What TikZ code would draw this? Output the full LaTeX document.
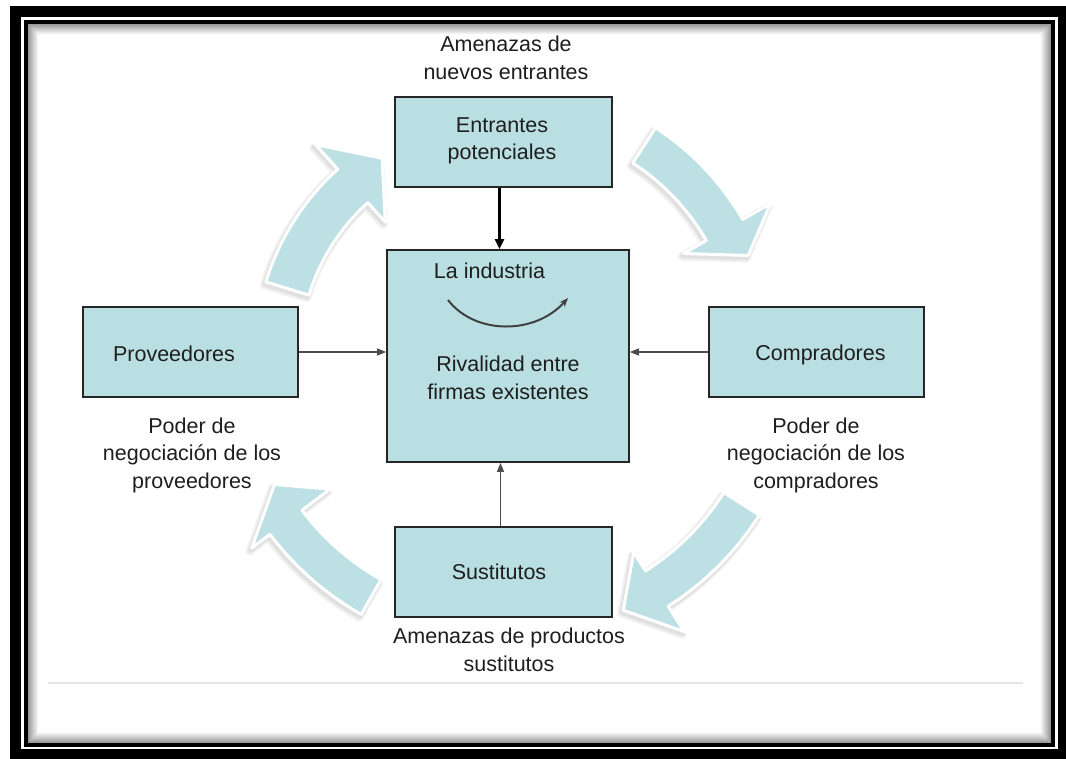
\documentclass[tikz,border=0pt]{standalone}
\usepackage{fontspec}
\setmainfont{Liberation Sans}
\usetikzlibrary{arrows.meta,calc}
\definecolor{boxblue}{RGB}{185,223,226}
\definecolor{arrblue}{RGB}{188,224,228}
\definecolor{txt}{RGB}{30,30,30}
% #1 ri, #2 ro, #3 a0, #4 a1, #5 a2, #6 rbi, #7 rbo, #8 rt  (center \cx,\cy)
\newcommand{\arrowpath}[8]{plot[domain=#3:#4,samples=30] ({\cx+#2*cos(\x)},{\cy+#2*sin(\x)}) -- ({\cx+#7*cos(#4)},{\cy+#7*sin(#4)}) -- ({\cx+#8*cos(#5)},{\cy+#8*sin(#5)}) -- ({\cx+#6*cos(#4)},{\cy+#6*sin(#4)}) -- ({\cx+#1*cos(#4)},{\cy+#1*sin(#4)}) -- plot[domain=#4:#3,samples=30] ({\cx+#1*cos(\x)},{\cy+#1*sin(\x)}) -- cycle}
\newcommand{\bigarrow}[8]{%
  \filldraw[black!6,line width=8pt,line join=round,shift={(-2,3)}] \arrowpath{#1}{#2}{#3}{#4}{#5}{#6}{#7}{#8};
  \filldraw[black!12,line width=4.5pt,line join=round,shift={(-1.5,2.5)}] \arrowpath{#1}{#2}{#3}{#4}{#5}{#6}{#7}{#8};
  \filldraw[fill=arrblue,draw=white,line width=3pt,line join=round] \arrowpath{#1}{#2}{#3}{#4}{#5}{#6}{#7}{#8};
}
\tikzset{
  box/.style={draw=black!85, line width=1.8pt, fill=boxblue, inner sep=0pt},
  lbl/.style={text=txt, align=center, font=\fontsize{21.5}{27.5}\selectfont, inner sep=0pt},
  conn/.style={draw=black!70, line width=1.2pt, -{Triangle[length=9pt,width=7pt]}},
  connthick/.style={draw=black, line width=2.5pt, -{Triangle[length=10pt,width=9pt]}},
  smallarc/.style={draw=black!75, line width=2pt, -{Stealth[length=9pt,width=7pt]}}
}
\begin{document}
\begin{tikzpicture}[x=1pt,y=-1pt]
\useasboundingbox (0,0) rectangle (1066,759);
% frame
\fill[black] (10,6) rectangle (1066,759);
\fill[white] (21,17) rectangle (1058,749);
\fill[black] (24,20) rectangle (1055,747);
\fill[white] (28,24) rectangle (1051,743);
\foreach \i in {0,...,10} {
  \pgfmathtruncatemacro\sh{40-3.8*\i}
  \draw[black!\sh, line width=1pt] ({28.5+\i},{24.5+\i}) rectangle ({1050.5-\i},{742.5-\i});
}
\draw[black!10, line width=2.5pt] (48,683) -- (1023,683);

% big curved arrows
\def\cx{505}\def\cy{355}
\bigarrow{205}{250}{197}{228}{238}{179}{283}{232}
\def\cx{508}\def\cy{355}
\bigarrow{229}{271}{303}{330}{337.5}{203}{303}{260}
\bigarrow{256}{298}{32.5}{57.5}{65.7}{234}{328}{280}
\bigarrow{258}{298}{119.5}{143}{151}{223}{321}{267}

% boxes
\node[box, minimum width=217, minimum height=90] (ent) at (503.5,142) {};
\node[box, minimum width=242, minimum height=212] (ctr) at (508,356) {};
\node[box, minimum width=215, minimum height=90] (prov) at (190.5,352) {};
\node[box, minimum width=215, minimum height=90] (comp) at (816.5,352) {};
\node[box, minimum width=217, minimum height=90] (sust) at (503.5,572) {};

% connectors
\draw[connthick] ([xshift=-4pt]ent.south) -- ([xshift=-4pt]ent.south |- ctr.north);
\draw[conn] (prov.east) -- (prov.east -| ctr.west);
\draw[conn] (comp.west) -- (comp.west -| ctr.east);
\draw[conn] ([xshift=-3pt]sust.north) -- ([xshift=-3pt]sust.north |- ctr.south);

% texts
\node[lbl] (tent) at (502,141) {Entrantes\\potenciales};
\node[lbl] (tind) at (489.5,271) {La industria};
\node[lbl] (triv) at (508,378) {Rivalidad entre\\firmas existentes};
\node[lbl] (tprov) at (174,354) {Proveedores};
\node[lbl] (tcomp) at (820.5,355) {Compradores};
\node[lbl] (tsust) at (499,572) {Sustitutos};
\node[lbl] (tnue) at (506,58) {Amenazas de\\nuevos entrantes};
\node[lbl] (tpp) at (192,455) {Poder de\\negociación de los\\proveedores};
\node[lbl] (tpc) at (816,455) {Poder de\\negociación de los\\compradores};
\node[lbl] (tsus) at (509,650) {Amenazas de productos\\sustitutos};

% small arc in the industry box
\coordinate (arcS) at (448,300);
\coordinate (arcE) at (568,298);
\draw[smallarc] (arcS) .. controls (475,335) and (535,335) .. (arcE);
\end{tikzpicture}
\end{document}
